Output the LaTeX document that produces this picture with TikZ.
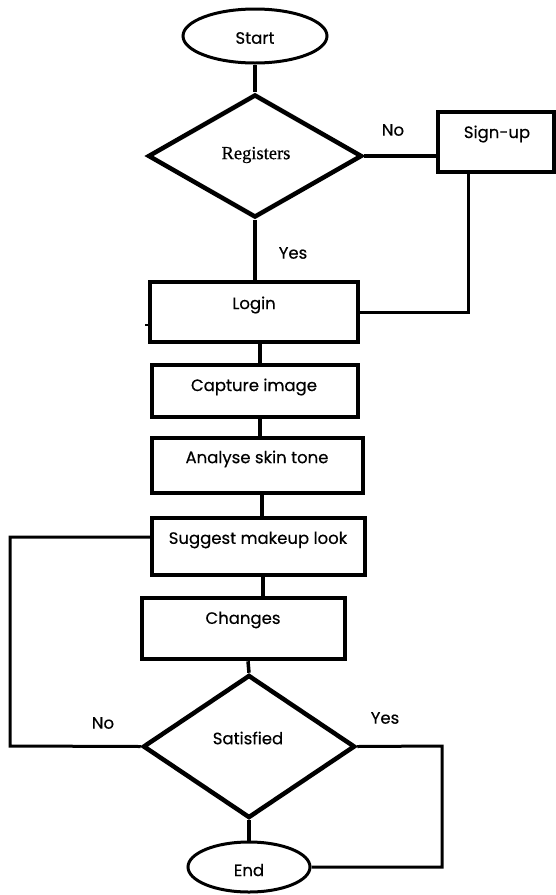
\documentclass[tikz,border=0pt]{standalone}
\usepackage{fontspec}
\setmainfont{Poppins}[FakeBold=0.4]
\newfontfamily\regfont{Liberation Serif}[FakeBold=0.6]
\usetikzlibrary{shapes.geometric}
\tikzset{
  boxnode/.style={draw, line width=4.5pt, inner sep=0pt, minimum width=#1},
  ovalnode/.style={draw, ellipse, line width=3pt, inner sep=0pt},
  decnode/.style={draw, diamond, line width=4.5pt, inner sep=0pt},
  txt/.style={inner sep=0pt, font=\fontsize{16.5}{18}\selectfont},
  conn/.style={line width=3.5pt},
}
\begin{document}
\begin{tikzpicture}[x=1pt,y=-1pt]
\path[use as bounding box] (0,0) rectangle (556,895);
% shapes
\node[ovalnode, minimum width=144, minimum height=54] (start) at (255,36) {};
\node[decnode, minimum width=214, minimum height=123] (reg) at (255,156) {};
\node[boxnode=116, line width=3.5pt, minimum height=60] (signup) at (496,142) {};
\node[boxnode=208, minimum height=60] (login) at (254,312) {};
\node[boxnode=206, minimum height=52] (capture) at (255,391) {};
\node[boxnode=211, minimum height=55] (analyse) at (257.5,465.5) {};
\node[boxnode=213, minimum height=57] (sugg) at (258.5,546.5) {};
\node[boxnode=203, minimum height=61] (changes) at (243.5,628.5) {};
\node[decnode, minimum width=212, minimum height=143] (sat) at (249,746.5) {};
\node[ovalnode, minimum width=122, minimum height=50] (end) at (249,867) {};
% texts
\node[txt] (tstart) at (255,38) {Start};
\node[inner sep=0pt, font=\regfont\fontsize{18.5}{20}\selectfont] (treg) at (256,155) {Registers};
\node[txt] (tno1) at (393,130) {No};
\node[txt] (tsignup) at (497,134) {Sign-up};
\node[txt] (tyes1) at (293,253) {Yes};
\node[txt] (tlogin) at (254,305) {Login};
\node[txt] (tcapture) at (254,387) {Capture image};
\node[txt] (tanalyse) at (257,459) {Analyse skin tone};
\node[txt] (tsugg) at (258,540) {Suggest makeup look};
\node[txt] (tchanges) at (243,620) {Changes};
\node[txt] (tsat) at (248,738) {Satisfied};
\node[txt] (tno2) at (103,723) {No};
\node[txt] (tyes2) at (385,718) {Yes};
\node[txt] (tend) at (249,870) {End};
% helper coordinates
\coordinate (xa) at (260,0);
\coordinate (xb) at (262,0);
\coordinate (xc) at (263,0);
\coordinate (xd) at (248,0);
\coordinate (xs) at (468,0);
\coordinate (lc) at (10,746);
\coordinate (rc) at (442,746);
\coordinate (stub) at (145,325);
% connectors
\draw[conn] (start.south) -- (reg.north);
\draw[conn] (reg.east) -- (reg.east -| signup.west);
\draw[conn] (reg.south) -- (reg.south |- login.north);
\draw[conn, line width=3pt] (signup.south -| xs) |- (login.east);
\draw[conn] (login.south -| xa) -- (capture.north -| xa);
\draw[conn] (capture.south -| xa) -- (analyse.north -| xa);
\draw[conn] (analyse.south -| xb) -- (sugg.north -| xb);
\draw[conn] (sugg.south -| xc) -- (changes.north -| xc);
\draw[conn] (changes.south -| xd) -- (sat.north);
\draw[conn, line width=3pt] (sat.west) -- (lc) |- ([yshift=9.5pt]sugg.west);
\draw[conn, line width=3pt] (sat.east) -- (rc) |- (end.east);
\draw[conn] (sat.south) -- (end.north);
\draw[line width=2pt] (stub) -- (login.west |- stub);
\end{tikzpicture}
\end{document}
